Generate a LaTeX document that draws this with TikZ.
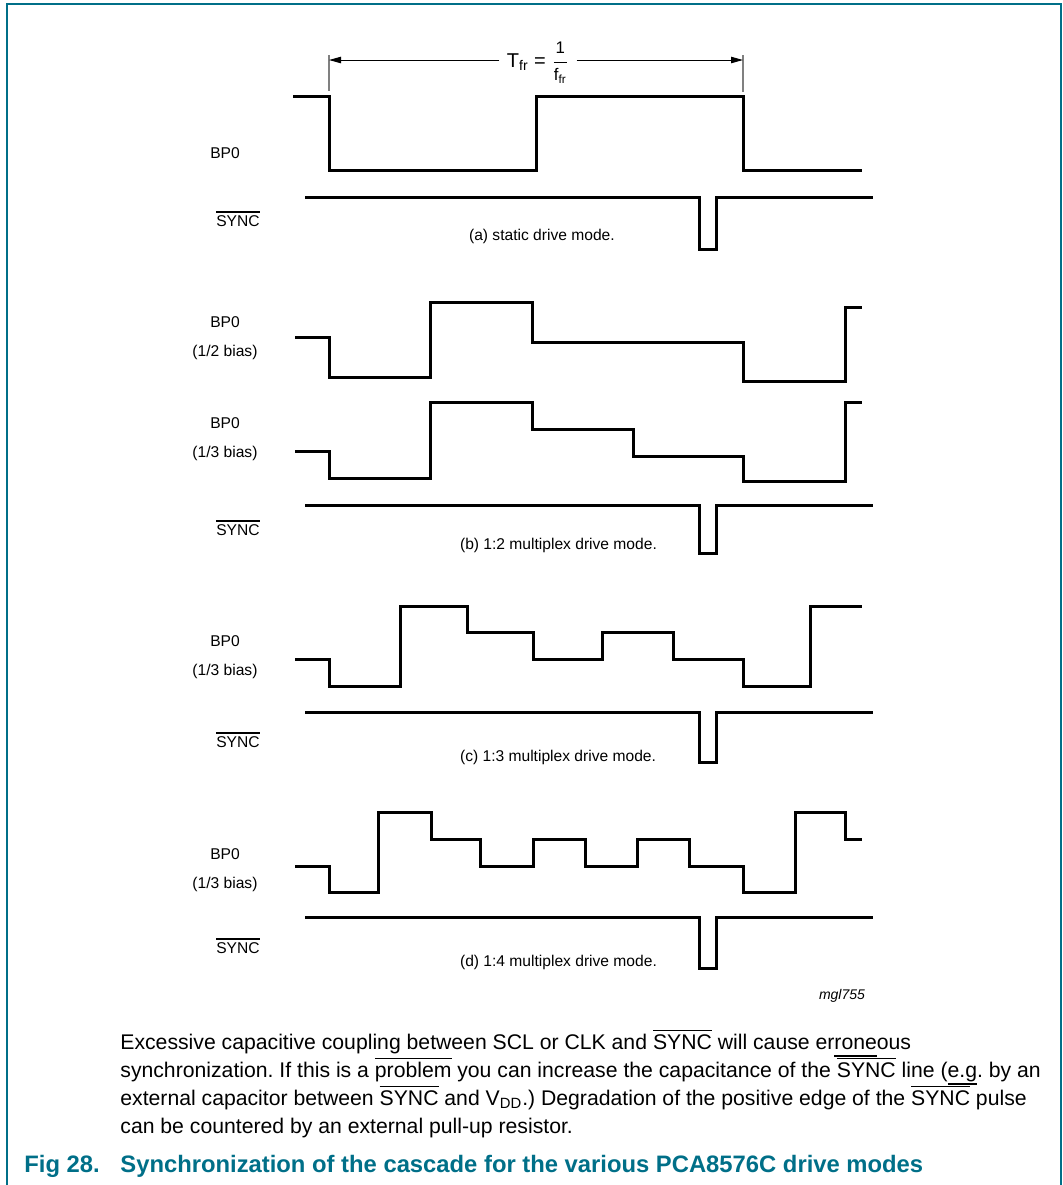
\documentclass[tikz,border=0pt]{standalone}
\usepackage{amsmath}
\usepackage{fontspec}
\setmainfont{Liberation Sans}
\usepackage{tikz}
\usetikzlibrary{arrows.meta}

\definecolor{nxpteal}{RGB}{0,111,136}
% bar over / under a word, drawn as a thin rule
\newcommand{\ovbar}[1]{\setbox0\hbox{#1}\rlap{\rule[\dimexpr\ht0+1.4pt\relax]{\wd0}{0.6pt}}\box0\relax}
\newcommand{\ulbar}[1]{\setbox0\hbox{#1}\rlap{\rule[-3.8pt]{\wd0}{0.6pt}}\box0\relax}
\newcommand{\nsync}{\ovbar{SYNC}}
\newcommand{\fracfont}{\fontsize{8.4}{10}\selectfont}
\frenchspacing

\begin{document}
\begin{tikzpicture}[x=0.5pt, y=-0.5pt,
  wave/.style={line width=1.5pt, line join=miter},
  sig/.style={font=\fontsize{7.8}{14.5}\selectfont, align=center},
  mode/.style={font=\fontsize{7.8}{9}\selectfont, anchor=west},
  body/.style={font=\fontsize{10.6}{14}\selectfont, anchor=base west, inner sep=0pt},
  capt/.style={font=\fontsize{11.9}{14}\selectfont\bfseries, text=nxpteal, anchor=base west, inner sep=0pt},
  dimarrow/.style={line width=0.5pt, -{Triangle[length=6pt,width=3.2pt]}},
  tick/.style={line width=0.8pt, gray}]
\useasboundingbox (0,0) rectangle (1063,1185);

% frame
\draw[nxpteal, line width=0.8pt] (7,1185) -- (7,4) -- (1061,4) -- (1061,1185);

% (a) static
\path (329,60) coordinate (lt);
\path (743,60) coordinate (rt);
\draw[tick] (329,55) -- (329,91);
\draw[tick] (743,55) -- (743,92);
\node[font=\fontsize{10}{12}\selectfont, inner sep=3.5pt] (tfr) at (538,63)
  {$\text{T}_{\text{fr}} \;\text{=}\; \dfrac{\text{\fracfont 1}}{\text{\fracfont f\textsubscript{fr}}}$};
\draw[dimarrow] (tfr.west |- lt) -- (lt);
\draw[dimarrow] (tfr.east |- rt) -- (rt);

\node[sig] (bpa) at (225,153) {BP0};
\node[sig] (sya) at (238,219) {\nsync};
\draw[wave] (293,96) -| (329,170) -| (536,96) -| (743,170) -- (862,170);
\draw[wave] (305,197) -| (699,249) -| (716,197) -- (873,197);
\node[mode] (ma) at (462,236) {(a) static drive mode.};

% (b) 1:2 multiplex
\node[sig] (bpb1) at (225,338) {BP0\\(1/2 bias)};
\node[sig] (bpb2) at (225,439) {BP0\\(1/3 bias)};
\node[sig] (syb) at (238,528) {\nsync};
\draw[wave] (295,337) -| (329,377) -| (430,302) -| (532,342) -| (743,381) -| (845,307) -- (862,307);
\draw[wave] (295,451) -| (329,478) -| (430,402) -| (532,429) -| (633,456) -| (743,481) -| (845,402) -- (862,402);
\draw[wave] (305,505) -| (699,553) -| (716,505) -- (873,505);
\node[mode] (mb) at (453,545) {(b) 1:2 multiplex drive mode.};

% (c) 1:3 multiplex
\node[sig] (bpc) at (225,657) {BP0\\(1/3 bias)};
\node[sig] (syc) at (238,740) {\nsync};
\draw[wave] (295,659) -| (329,686) -| (400,606) -| (467,632) -| (533,659) -| (602,632) -| (673,659) -| (743,686) -| (810,606) -- (862,606);
\draw[wave] (305,712) -| (699,762) -| (716,712) -- (873,712);
\node[mode] (mc) at (453,757) {(c) 1:3 multiplex drive mode.};

% (d) 1:4 multiplex
\node[sig] (bpd) at (225,870) {BP0\\(1/3 bias)};
\node[sig] (syd) at (238,946) {\nsync};
\draw[wave] (295,866) -| (329,892) -| (378,812) -| (431,839) -| (480,866) -| (533,839) -| (585,866) -| (637,839) -| (689,866) -| (743,892) -| (795,812) -| (845,839) -- (862,839);
\draw[wave] (305,917) -| (699,968) -| (716,917) -- (873,917);
\node[mode] (md) at (453,962) {(d) 1:4 multiplex drive mode.};
\node[font=\fontsize{7}{8}\selectfont\itshape] (code) at (842,996) {mgl755};

% note below the figure
\node[body] (txt1) at (120,1049) {Excessive capacitive coupling between SCL or CLK and \nsync{} will cause er\ulbar{rone}ous};
\node[body] (txt2) at (120,1077) {synchronization. If this is a \ovbar{problem} you can increase the capacitance of the \nsync{} line (\ulbar{e.g}. by an};
\node[body] (txt3) at (120,1105) {external capacitor between \nsync{} and V\textsubscript{DD}.) Degradation of the positive edge of the \nsync{} pulse};
\node[body] (txt4) at (120,1133) {can be countered by an external pull-up resistor.};

% caption
\node[capt] (fig) at (24,1172) {Fig 28.};
\node[capt] (cap) at (120,1172) {Synchronization of the cascade for the various PCA8576C drive modes};
\end{tikzpicture}
\end{document}
